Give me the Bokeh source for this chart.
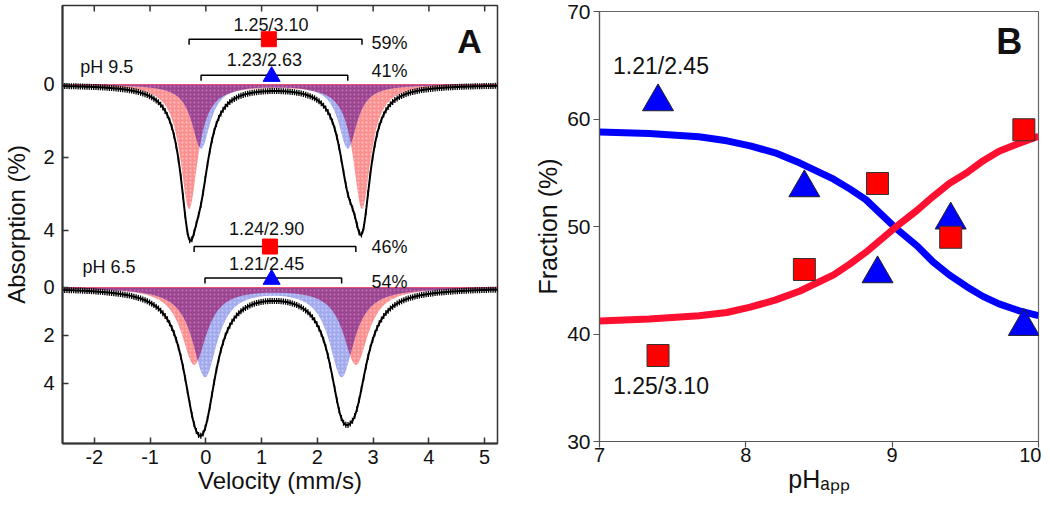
import numpy as np
from bokeh.plotting import figure
from bokeh.models import Range1d, FixedTicker, Label
from bokeh.layouts import row, column
from bokeh.embed import file_html
from bokeh.resources import INLINE

FONT = "Liberation Sans"

# ---------------- Panel A data (Mossbauer doublet fits) -------------
spectrum_names = ["pH 9.5", "pH 6.5"]
red_delta = [1.25, 1.24]
red_deq = [3.10, 2.90]
red_depth = [3.4, 3.2]
red_hwhm = [0.19, 0.27]
red_frac = ["59%", "46%"]
blue_delta = [1.23, 1.21]
blue_deq = [2.63, 2.45]
blue_depth = [1.75, 3.7]
blue_hwhm = [0.20, 0.27]
blue_frac = ["41%", "54%"]
marker_pos_red = [1.13, 1.15]
marker_pos_blue = [1.18, 1.18]
absorption_ticks = [0, 2, 4]
velocity_ticks = [-2, -1, 0, 1, 2, 3, 4, 5]

# ---------------- Panel B data -------------
ph_points = [7.4, 8.4, 8.9, 9.4, 9.9]
frac_red = [38.0, 46.0, 54.0, 49.0, 59.0]
frac_blue = [61.6, 53.6, 45.6, 50.6, 40.7]
ph_curve = [7.0, 7.34, 7.68, 7.87, 8.03, 8.20, 8.37, 8.60, 8.71, 8.82, 9.02, 9.17, 9.28, 9.39, 9.51,
            9.62, 9.73, 9.87, 10.0]
curve_blue = [58.8, 58.66, 58.35, 57.97, 57.5, 56.85, 55.9, 54.4, 53.5, 52.5, 49.9, 48.2, 46.7, 45.5,
              44.4, 43.5, 42.8, 42.15, 41.7]
curve_red = [41.2, 41.4, 41.7, 42.0, 42.5, 43.15, 44.0, 45.5, 46.5, 47.6, 49.9, 51.5, 52.8, 54.0, 55.0,
             56.1, 57.0, 57.75, 58.4]
ph_ticks = [7, 8, 9, 10]
frac_ticks = [30, 40, 50, 60, 70]

PINK = "#fb9090"
LBLUE = "#a2aaee"
PURPLE = "#9a4590"
RED = "#ff0000"
BLUE = "#0000ff"

# ================= Panel A =================
OFFSET = [0.0, 5.562]
SCALE = [1.0, 0.6575]
YTOP = -2.164
YBOT = 9.836

pA = figure(frame_width=435, frame_height=438, x_range=Range1d(-2.57, 5.23), y_range=Range1d(YBOT, YTOP),
            output_backend="svg", toolbar_location=None,
            min_border_left=55, min_border_right=32, min_border_top=5, min_border_bottom=56)
pA.grid.visible = False
pA.outline_line_color = "#333333"
pA.outline_line_width = 1.5

v = np.linspace(-2.57, 5.23, 781)


def doublet(x, d, q, depth, w):
    return depth / (1 + ((x - (d - q / 2)) / w) ** 2) + depth / (1 + ((x - (d + q / 2)) / w) ** 2)


for i in range(2):
    off, sc = OFFSET[i], SCALE[i]
    r = doublet(v, red_delta[i], red_deq[i], red_depth[i], red_hwhm[i])
    b = doublet(v, blue_delta[i], blue_deq[i], blue_depth[i], blue_hwhm[i])
    pA.varea(x=v, y1=off, y2=off + sc * r, fill_color=PINK,
             hatch_pattern="dot", hatch_color="white", hatch_alpha=0.45, hatch_scale=4)
    pA.varea(x=v, y1=off, y2=off + sc * b, fill_color=LBLUE,
             hatch_pattern="dot", hatch_color="white", hatch_alpha=0.45, hatch_scale=4)
    pA.varea(x=v, y1=off, y2=off + sc * np.minimum(r, b), fill_color=PURPLE,
             hatch_pattern="dot", hatch_color="#e08ac8", hatch_alpha=0.6, hatch_scale=4)
    pA.line([-2.57, 5.23], [off, off], line_color="#e8507a", line_width=1)
    tot = r + b
    pA.line(v, off + sc * tot, line_color="black", line_width=2)
    pA.scatter(v[::4], off + sc * tot[::4], marker="dash", angle=np.pi / 2, size=6,
               line_color="black", line_width=1.3)

bracket_y_red = [-1.24, 4.44]
bracket_y_blue = [-0.25, 5.30]
tri_y = [-0.22, 5.34]
tick_len = 0.15
for i in range(2):
    for d, q, yb in [(red_delta[i], red_deq[i], bracket_y_red[i]),
                     (blue_delta[i], blue_deq[i], bracket_y_blue[i])]:
        lo, hi = d - q / 2, d + q / 2
        pA.multi_line([[lo, lo, hi, hi]], [[yb + tick_len, yb, yb, yb + tick_len]],
                      line_color="black", line_width=1.5)
pA.scatter(marker_pos_red, bracket_y_red, marker="square", size=15, fill_color=RED, line_color=RED)
pA.scatter(marker_pos_blue, tri_y, marker="triangle", size=17, fill_color=BLUE, line_color=BLUE)

# inward ticks along the top edge
pA.scatter(velocity_ticks, [YTOP] * len(velocity_ticks), marker="dash", angle=np.pi / 2, size=12,
           line_color="#333333", line_width=1.5)

lab_kw = dict(text_font=FONT, text_font_size="18px", text_color="#111111")
labels_A = [
    (1.17, -1.64, f"{red_delta[0]:.2f}/{red_deq[0]:.2f}", "center"),
    (2.97, -1.15, red_frac[0], "left"),
    (1.05, -0.68, f"{blue_delta[0]:.2f}/{blue_deq[0]:.2f}", "center"),
    (2.97, -0.36, blue_frac[0], "left"),
    (-2.25, -0.47, spectrum_names[0], "left"),
    (1.09, 3.97, f"{red_delta[1]:.2f}/{red_deq[1]:.2f}", "center"),
    (2.97, 4.44, red_frac[1], "left"),
    (-2.21, 5.01, spectrum_names[1], "left"),
    (1.09, 4.93, f"{blue_delta[1]:.2f}/{blue_deq[1]:.2f}", "center"),
    (2.97, 5.40, blue_frac[1], "left"),
]
for x, y, t, al in labels_A:
    pA.add_layout(Label(x=x, y=y, text=t, text_align=al, text_baseline="middle", **lab_kw))
pA.add_layout(Label(x=4.73, y=-1.18, text="A", text_align="center", text_baseline="middle",
                    text_font=FONT, text_font_size="34px", text_font_style="bold",
                    text_color="#111111"))

ytick_pos = []
ytick_over = {}
for i in range(2):
    for t in absorption_ticks:
        pos = round(OFFSET[i] + SCALE[i] * t, 4)
        ytick_pos.append(pos)
        ytick_over[pos] = str(t)
pA.yaxis.ticker = FixedTicker(ticks=ytick_pos)
pA.yaxis.major_label_overrides = ytick_over
pA.yaxis.axis_label = "Absorption (%)"
pA.xaxis.ticker = FixedTicker(ticks=velocity_ticks)
pA.xaxis.major_label_overrides = {t: str(t) for t in velocity_ticks}
pA.xaxis.axis_label = "Velocity (mm/s)"
for ax in [pA.xaxis[0], pA.yaxis[0]]:
    ax.major_tick_in = 6
    ax.major_tick_out = 0
    ax.minor_tick_line_color = None
    ax.axis_line_color = "#333333"
    ax.axis_line_width = 2
    ax.major_tick_line_color = "#333333"
    ax.major_tick_line_width = 1.5
    ax.major_label_text_font = FONT
    ax.major_label_text_font_size = "20px"
    ax.major_label_text_color = "#111111"
    ax.axis_label_text_font = FONT
    ax.axis_label_text_font_size = "24px"
    ax.axis_label_text_font_style = "normal"
    ax.axis_label_text_color = "#111111"
pA.yaxis.major_label_standoff = 8
pA.yaxis.axis_label_standoff = 10
pA.xaxis.major_label_standoff = 6
pA.xaxis.axis_label_standoff = 0

# ================= Panel B =================
pB = figure(frame_width=439, frame_height=430, x_range=Range1d(7, 10), y_range=Range1d(30, 70),
            output_backend="svg", toolbar_location=None,
            min_border_left=70, min_border_right=3, min_border_top=11, min_border_bottom=58)
pB.grid.visible = False
pB.outline_line_color = "#666666"
pB.outline_line_width = 1.2

pB.line(ph_curve, curve_blue, line_color=BLUE, line_width=7)
pB.line(ph_curve, curve_red, line_color="#ff1030", line_width=7)
pB.scatter(ph_points, frac_blue, marker="triangle", size=31, fill_color=BLUE, line_color="#222222", line_width=1)
pB.scatter(ph_points, frac_red, marker="square", size=22, fill_color=RED, line_color="#333333", line_width=1)

pB.add_layout(Label(x=7.42, y=64.9, text=f"{blue_delta[1]:.2f}/{blue_deq[1]:.2f}", text_align="center",
                    text_baseline="middle", text_font=FONT, text_font_size="23px", text_color="#111111"))
pB.add_layout(Label(x=7.42, y=35.2, text=f"{red_delta[0]:.2f}/{red_deq[0]:.2f}", text_align="center",
                    text_baseline="middle", text_font=FONT, text_font_size="23px", text_color="#111111"))
pB.add_layout(Label(x=9.80, y=67.2, text="B", text_align="center", text_baseline="middle",
                    text_font=FONT, text_font_size="36px", text_font_style="bold", text_color="#111111"))

pB.xaxis.ticker = FixedTicker(ticks=ph_ticks)
pB.yaxis.ticker = FixedTicker(ticks=frac_ticks)
pB.yaxis.axis_label = "Fraction (%)"
pB.xaxis.axis_label = "pH\u2090\u209a\u209a"
for ax in [pB.xaxis[0], pB.yaxis[0]]:
    ax.major_tick_in = 0
    ax.major_tick_out = 6
    ax.minor_tick_line_color = None
    ax.axis_line_color = "#555555"
    ax.axis_line_width = 1.2
    ax.major_tick_line_color = "#555555"
    ax.major_tick_line_width = 1.2
    ax.major_label_text_font = FONT
    ax.major_label_text_font_size = "21px"
    ax.major_label_text_color = "#111111"
    ax.axis_label_text_font = FONT
    ax.axis_label_text_font_size = "25px"
    ax.axis_label_text_font_style = "normal"
    ax.axis_label_text_color = "#111111"
pB.xaxis.major_label_text_font_size = "20px"
pB.xaxis.axis_label_text_font_size = "25px"
pB.xaxis.major_label_standoff = 0
pB.xaxis.axis_label_standoff = 0
pB.yaxis.major_label_standoff = 3
pB.yaxis.axis_label_standoff = 2

layout = row(column(pA), column(pB))
open("out.html", "w").write(file_html(layout, INLINE))
